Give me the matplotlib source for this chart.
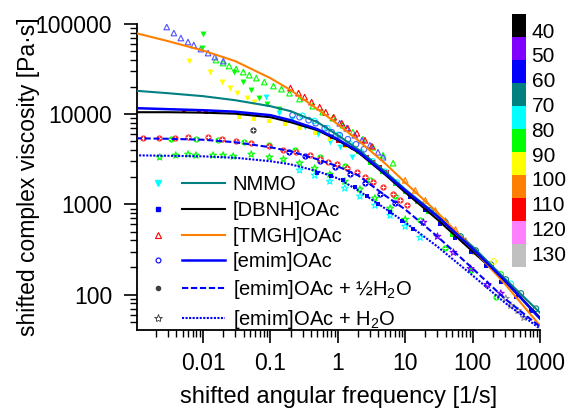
import numpy as np
import matplotlib
matplotlib.use('Agg')
import matplotlib.pyplot as plt
from matplotlib.colors import ListedColormap
from matplotlib.lines import Line2D
from matplotlib.legend_handler import HandlerTuple
from matplotlib.ticker import LogLocator, FuncFormatter, NullFormatter

plt.rcParams['font.family'] = ['Liberation Sans', 'DejaVu Sans']
plt.rcParams['mathtext.fontset'] = 'custom'
plt.rcParams['mathtext.rm'] = 'Liberation Sans'
plt.rcParams['mathtext.it'] = 'Liberation Sans:italic'
plt.rcParams['mathtext.default'] = 'regular'

# temperature colour scale
scale_labels = [40, 50, 60, 70, 80, 90, 100, 110, 120, 130]
scale_colors = ['#000000', '#8000FF', '#0000FF', '#008080', '#00FFFF', '#00FF00',
                '#FFFF00', '#FF8000', '#FF0000', '#FF80FF', '#C0C0C0']
col = dict(black='#000000', violet='#8000FF', blue='#0000FF', teal='#008080',
           cyan='#00FFFF', green='#00FF00', yellow='#FFFF00', orange='#FF8000',
           red='#FF0000', pink='#FF80FF', gray='#909090')

# fitted master curves
fit_x = [0.001, 0.003, 0.01, 0.03, 0.1, 0.2, 0.5, 1, 2, 5, 10, 30, 100, 300, 1000]
fit_nmmo = [18200, 17100, 15850, 14300, 12270, 10800, 8150, 5850, 4080, 2330, 1470, 755, 341, 151, 63]
fit_dbnh = [10520, 10520, 10400, 10130, 9260, 8150, 6640, 5140, 3780, 2150, 1360, 681, 301, 143, 55.5]
fit_tmgh = [79400, 64700, 50800, 38800, 25100, 18500, 11370, 7740, 5140, 2860, 1750, 815, 324, 132, 45.3]
fit_emim = [11670, 11370, 11070, 10660, 9750, 8580, 6810, 5270, 3880, 2210, 1430, 736, 324, 143, 54.1]
fit_emim_half = [5410, 5340, 5210, 4890, 4300, 3880, 3160, 2640, 2100, 1260, 880, 441, 195, 90.4, 44.1]
fit_emim_water = [3500, 3460, 3410, 3290, 3010, 2780, 2330, 1945, 1430, 904, 631, 341, 163, 81.5, 41.9]

# measured (shifted) data
tmgh60_x = [0.0029, 0.0037, 0.0047, 0.0060, 0.0073, 0.0093, 0.0119, 0.015, 0.02, 1.07, 1.36, 1.79, 2.28, 3.0, 3.95, 4.7]
tmgh60_y = [92600, 79400, 69900, 63100, 58400, 52700, 47600, 43000, 38800, 7940, 6990, 5850, 5140, 4530, 3780, 3330]
tmgh120_x = [0.199, 0.262, 0.322, 0.409, 0.539, 0.662, 0.871, 1.148, 1.41, 1.92, 2.53, 3.21]
tmgh120_y = [19450, 17100, 15450, 13600, 11960, 10520, 9260, 7940, 6990, 6150, 5140, 4410]
tmgh90_x = [0.0156, 0.0199, 0.0244, 0.0311, 0.0396, 0.0486, 0.0618, 0.0813, 0.111, 0.146, 0.192,
            0.271, 0.424, 0.597, 0.842, 1.19, 1.67, 2.36, 3.33, 4.70, 6.62]
tmgh90_y = [39800, 36900, 34200, 31600, 29300, 27100, 25100, 22700, 20500, 18950, 17100,
            14700, 12270, 10520, 9030, 7550, 6310, 5270, 4300, 3500, 2860]
tmgh110_x = [10.0, 14.1, 19.9, 28.0, 39.5, 55.7, 78.7, 111]
tmgh110_y = [1850, 1430, 1110, 858, 664, 527, 398, 301]

nmmo90_x = [0.01, 0.0097, 0.029, 0.0396, 0.052, 0.0686, 0.0902, 0.132]
nmmo90_y = [77400, 54100, 29300, 22700, 18500, 15070, 12900, 11370]
nmmo100_x = [0.00618, 0.0127, 0.0192, 0.0253, 0.0321, 0.0454, 0.0577]
nmmo100_y = [38800, 29300, 22700, 19450, 17100, 15070, 13600]
nmmo80_x = [0.087, 0.136, 0.206, 0.322, 0.503, 0.76, 1.07, 1.62]
nmmo80_y = [15450, 10260, 8800, 7170, 6000, 4890, 4300, 3330]

dbnh120_x = [0.0052, 0.0087, 0.0111, 0.813, 1.0, 1.27, 1.67, 2.13, 2.71, 3.33, 4.23, 5.39]
dbnh120_y = [10800, 10800, 10520, 5550, 5010, 4530, 4190, 3780, 3330, 2930, 2580, 2270]
dbnh100_x = [0.0344, 0.0577, 0.0966, 0.162, 0.271, 0.454, 0.76, 1.27]
dbnh100_y = [9260, 8800, 8360, 7740, 6990, 6150, 5270, 4410]
dbnh90_x = [2, 3, 4.5, 7, 10, 15, 22, 33, 50]
dbnh90_y = [3780, 2900, 2300, 1700, 1360, 1050, 820, 630, 460]
dbnh60_x = [11.9, 19.9, 33.3, 55.7, 93.3, 156, 262, 439, 735]
dbnh60_y = [1200, 858, 600, 419, 293, 205, 139, 95, 66]

emim60_x = [0.213, 0.271, 0.369, 0.47, 0.64, 0.813, 1.07, 1.41, 1.86, 2.44]
emim60_y = [9750, 9260, 8580, 7940, 6990, 6310, 5850, 5270, 4640, 4080]
emim80_x = [0.3, 0.45, 0.7, 1.0, 1.5, 2.2, 3.3, 5.0, 7.5]
emim80_y = [9600, 8400, 7000, 5900, 4700, 3800, 3000, 2300, 1750]
emim70_x = [23.6, 39.5, 66.2, 111, 186, 311, 520, 871]
emim70_y = [858, 631, 441, 308, 215, 147, 103, 69.9]
emim_hot_x = [206, 262, 369]
emim_hot_y = [233, 167, 132]

half120_x = [0.00127, 0.0022, 0.00382, 0.006, 0.0119, 0.0192, 0.0311, 0.052, 0.0966, 0.156, 0.244, 0.382,
             0.539, 0.71, 0.966, 1.36, 1.92, 2.53, 3.33, 4.70, 6.62, 8.41, 10.7]
half120_y = [5410, 5410, 5410, 5550, 5550, 5270, 5010, 4760, 4410, 3980, 3780, 3500,
             3160, 2930, 2780, 2510, 2270, 2000, 1750, 1545, 1320, 1110, 975]
half90_x = [0.00333, 0.00787, 0.0167, 0.041, 0.0966, 0.228, 0.539, 1.27, 3.0, 7.1, 16.7, 39.5, 93.3, 220]
half90_y = [5270, 5270, 5140, 4890, 4530, 3980, 3330, 2640, 1850, 1230, 664, 325, 185, 95]
half60_x = [0.192, 0.322, 0.539, 0.902, 1.51, 2.53, 4.23, 7.1]
half60_y = [3780, 3410, 3010, 2580, 2150, 1710, 1320, 1025]
half40_x = [0.0557]
half40_y = [6640]

water90_x = [0.00228, 0.00395, 0.006, 0.00787, 0.0141, 0.0199, 0.0281, 0.052, 0.0966, 0.156, 0.271,
             0.454, 0.76, 1.27, 2.13, 3.56, 5.97, 10.0]
water90_y = [3330, 3500, 3590, 3500, 3500, 3500, 3410, 3590, 3330, 3160, 2860,
             2510, 2150, 1800, 1470, 1170, 904, 681]
water80_x = [0.271, 0.454, 0.76, 1.27, 2.13, 3.56, 5.97, 10.0, 16.7]
water80_y = [2390, 2100, 1800, 1510, 1230, 975, 755, 570, 430]
water60_x = [0.5, 0.8, 1.2, 1.8, 2.7, 4, 6, 9, 13]
water60_y = [2250, 2050, 1850, 1550, 1250, 1020, 820, 660, 540]
water50_x = [18.6, 30.1, 52.0, 93.3, 167, 262]
water50_y = [631, 441, 293, 194, 129, 103]
water130_x = [311, 369, 470, 577]
water130_y = [90.4, 75.5, 66.4, 55.5]

legend_labels = ['NMMO', '[DBNH]OAc', '[TMGH]OAc', '[emim]OAc',
                 '[emim]OAc + ½H$_2$O', '[emim]OAc + H$_2$O']

fig = plt.figure(figsize=(5.71, 4.08), dpi=100)
ax = fig.add_axes([137/571, 78/408, 403/571, 306/408])


def pts(x, y, marker, color, filled=True, s=14):
    if filled:
        ax.scatter(x, y, marker=marker, s=s, c=color, linewidths=0, zorder=2)
    else:
        ax.scatter(x, y, marker=marker, s=s, facecolors='none', edgecolors=color,
                   linewidths=0.8, zorder=2)


def oplus(x, y, color):
    ax.scatter(x, y, marker='o', s=20, c=color, linewidths=0, zorder=2)
    ax.scatter(x, y, marker='+', s=10, c='white', linewidths=0.7, zorder=2)


pts(tmgh90_x, tmgh90_y, '^', col['green'], filled=False, s=16)
pts(tmgh60_x, tmgh60_y, '^', '#5050FF', filled=False, s=16)
pts(tmgh120_x, tmgh120_y, '^', col['red'], filled=False, s=16)
pts(tmgh110_x, tmgh110_y, '^', col['orange'], filled=False, s=16)

pts(nmmo90_x, nmmo90_y, 'v', col['green'], s=18)
pts(nmmo100_x, nmmo100_y, 'v', col['yellow'], s=18)
pts(nmmo80_x, nmmo80_y, 'v', col['cyan'], s=18)

pts(dbnh100_x, dbnh100_y, 's', col['yellow'], s=10)
pts(dbnh90_x, dbnh90_y, 's', col['green'], s=10)
pts(dbnh120_x, dbnh120_y, 's', '#D01010', s=12)
pts(dbnh60_x, dbnh60_y, 's', col['blue'], s=12)

pts(emim80_x, emim80_y, 'o', col['cyan'], filled=False, s=16)
pts(emim60_x, emim60_y, 'o', '#4060FF', filled=False, s=16)
pts(emim70_x, emim70_y, 'o', col['teal'], filled=False, s=16)
pts(emim_hot_x, emim_hot_y, 'o', [col['yellow'], col['green'], col['cyan']], filled=False, s=16)

oplus(half90_x, half90_y, col['green'])
oplus(half60_x, half60_y, col['blue'])
oplus(half120_x, half120_y, '#FF3030')
oplus(half40_x, half40_y, '#404040')

pts(water90_x, water90_y, '*', col['green'], filled=False, s=26)
pts(water80_x, water80_y, '*', col['cyan'], filled=False, s=26)
pts(water60_x, water60_y, 's', col['blue'], s=8)
pts(water50_x, water50_y, '*', col['violet'], filled=False, s=26)
pts(water130_x, water130_y, '*', col['gray'], filled=False, s=26)

l_nmmo, = ax.plot(fit_x, fit_nmmo, color=col['teal'], lw=1.5, zorder=3)
l_dbnh, = ax.plot(fit_x, fit_dbnh, color=col['black'], lw=1.5, zorder=3)
l_tmgh, = ax.plot(fit_x, fit_tmgh, color=col['orange'], lw=1.5, zorder=3)
l_emim, = ax.plot(fit_x, fit_emim, color=col['blue'], lw=1.8, zorder=3)
l_half, = ax.plot(fit_x, fit_emim_half, color=col['blue'], lw=1.5, ls=(0, (3, 1.3)), zorder=3)
l_water, = ax.plot(fit_x, fit_emim_water, color=col['blue'], lw=1.5, ls=(0, (1, 0.7)), zorder=3)

ax.set_xscale('log')
ax.set_yscale('log')
ax.set_xlim(1.05e-3, 1000)
ax.set_ylim(40.5, 1e5)
for side in ['top', 'right']:
    ax.spines[side].set_visible(False)
for side in ['left', 'bottom']:
    ax.spines[side].set_linewidth(1.3)

fmt = FuncFormatter(lambda v, p: f'{v:g}')
for axis in [ax.xaxis, ax.yaxis]:
    axis.set_major_locator(LogLocator(base=10, numticks=20))
    axis.set_minor_locator(LogLocator(base=10, subs=np.arange(2, 10), numticks=20))
    axis.set_major_formatter(fmt)
    axis.set_minor_formatter(NullFormatter())
ax.tick_params(which='major', direction='out', length=9.5, width=1.2, labelsize=16.5)
ax.tick_params(which='minor', direction='out', length=5, width=1.0)
ax.tick_params(axis='x', which='major', pad=6.5)
ax.tick_params(axis='y', which='major', pad=8.5)

ax.set_xlabel('shifted angular frequency [1/s]', fontsize=17, labelpad=8)
ax.set_ylabel('shifted complex viscosity [Pa·s]', fontsize=16.5)
ax.yaxis.set_label_coords(-0.241, 0.5)

mk = [Line2D([], [], ls='none', marker='v', color=col['cyan'], markersize=4),
      Line2D([], [], ls='none', marker='s', color=col['blue'], markersize=2.5),
      Line2D([], [], ls='none', marker='^', mfc='none', mec=col['red'], markersize=4, mew=0.8),
      Line2D([], [], ls='none', marker='o', mfc='none', mec=col['blue'], markersize=3.5, mew=0.8),
      Line2D([], [], ls='none', marker='o', color='#404040', markersize=3),
      Line2D([], [], ls='none', marker='*', mfc='none', mec='#303030', markersize=6, mew=0.6)]
lines = [l_nmmo, l_dbnh, l_tmgh, l_emim, l_half, l_water]
ax.legend([(m, l) for m, l in zip(mk, lines)], legend_labels,
          handler_map={tuple: HandlerTuple(ndivide=None, pad=0.08)},
          loc='upper left', bbox_to_anchor=(0.0, 0.505), frameon=False, fontsize=14.5,
          handlelength=4.35, handletextpad=0.4, labelspacing=0.33, borderpad=0, borderaxespad=0)

# discrete colour scale
cax = fig.add_axes([512/571, 141/408, 14/571, 253/408])
cax.pcolormesh([0, 1], np.arange(len(scale_colors) + 1),
               np.arange(len(scale_colors)).reshape(-1, 1),
               cmap=ListedColormap(scale_colors))
cax.set_xlim(0, 1)
cax.set_ylim(len(scale_colors), 0)
cax.set_xticks([])
cax.yaxis.tick_right()
cax.set_yticks(np.linspace(0.7, 10.4, len(scale_labels)))
cax.set_yticklabels([str(t) for t in scale_labels])
cax.tick_params(length=0, pad=4, labelsize=15)
for s in cax.spines.values():
    s.set_visible(False)

fig.savefig('out.png', dpi=100)
